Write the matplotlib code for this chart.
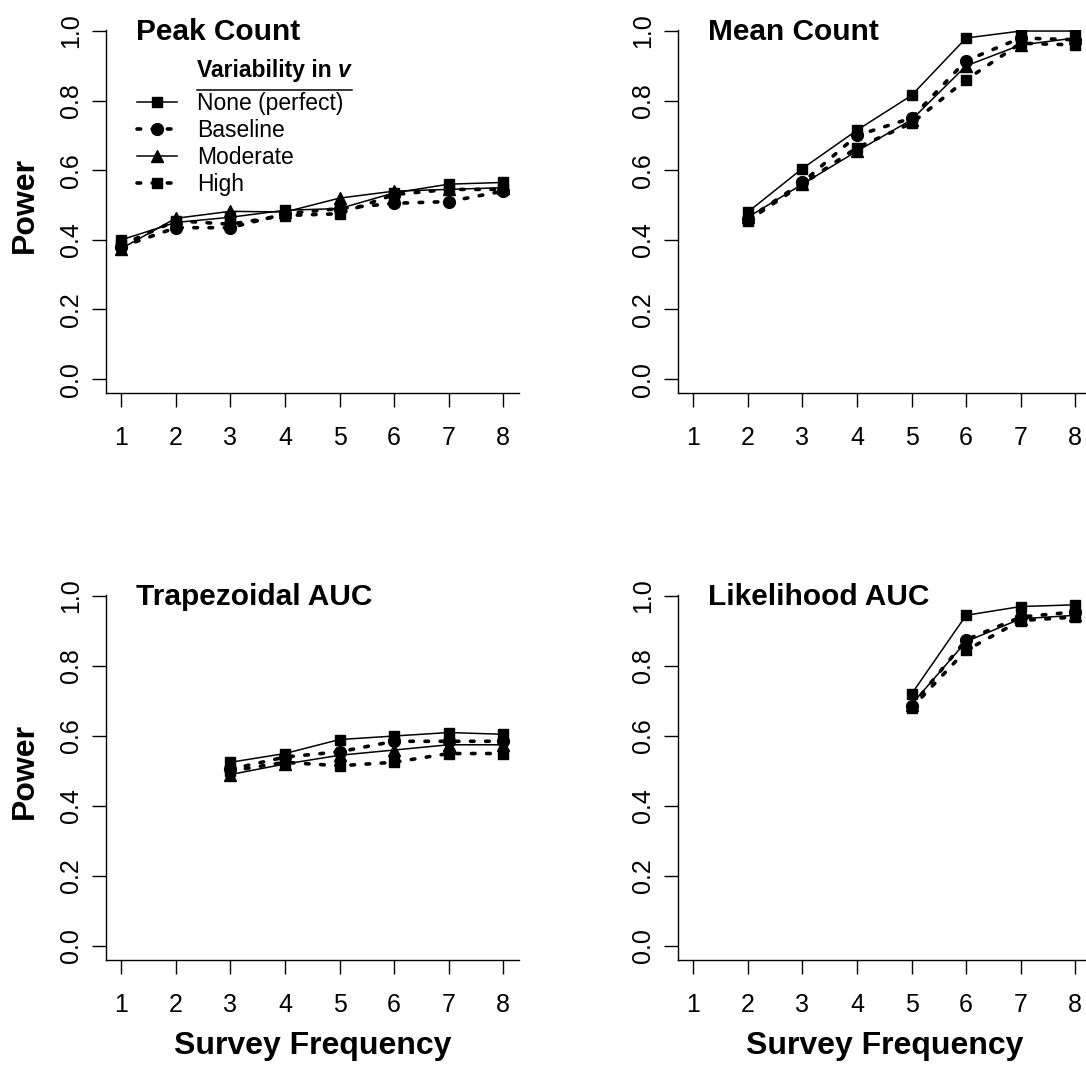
import matplotlib
matplotlib.use("Agg")
import matplotlib.pyplot as plt
from matplotlib.lines import Line2D

plt.rcParams['font.family'] = 'Liberation Sans'

# survey frequency ticks and y ticks
freq = [1, 2, 3, 4, 5, 6, 7, 8]
power_ticks = [0.0, 0.2, 0.4, 0.6, 0.8, 1.0]
power_labels = ['0.0', '0.2', '0.4', '0.6', '0.8', '1.0']

series_names = ['None (perfect)', 'Baseline', 'Moderate', 'High']

# Peak Count
peak_x = [1, 2, 3, 4, 5, 6, 7, 8]
peak_none = [0.40, 0.450, 0.465, 0.485, 0.490, 0.535, 0.560, 0.565]
peak_base = [0.380, 0.435, 0.435, 0.475, 0.490, 0.505, 0.510, 0.540]
peak_mod = [0.375, 0.462, 0.482, 0.480, 0.520, 0.540, 0.545, 0.550]
peak_high = [0.385, 0.455, 0.445, 0.470, 0.475, 0.530, 0.545, 0.545]

# Mean Count
mean_x = [2, 3, 4, 5, 6, 7, 8]
mean_none = [0.480, 0.605, 0.715, 0.815, 0.980, 1.000, 1.000]
mean_base = [0.460, 0.565, 0.700, 0.750, 0.915, 0.980, 0.975]
mean_mod = [0.465, 0.560, 0.655, 0.745, 0.900, 0.960, 0.980]
mean_high = [0.455, 0.560, 0.665, 0.735, 0.860, 0.965, 0.960]

# Trapezoidal AUC
trap_x = [3, 4, 5, 6, 7, 8]
trap_none = [0.525, 0.550, 0.590, 0.600, 0.610, 0.605]
trap_base = [0.505, 0.540, 0.555, 0.585, 0.585, 0.585]
trap_mod = [0.490, 0.520, 0.545, 0.560, 0.575, 0.575]
trap_high = [0.500, 0.525, 0.515, 0.525, 0.550, 0.550]

# Likelihood AUC
lik_x = [5, 6, 7, 8]
lik_none = [0.720, 0.945, 0.970, 0.975]
lik_base = [0.685, 0.875, 0.940, 0.955]
lik_mod = [0.690, 0.870, 0.935, 0.945]
lik_high = [0.680, 0.845, 0.930, 0.940]

dots = (0, (1.0, 3.2))
styles = [
    dict(linestyle='-', lw=1.1, marker='s', ms=7),
    dict(linestyle=dots, lw=2.6, dash_capstyle='round', marker='o', ms=8.5),
    dict(linestyle='-', lw=1.1, marker='^', ms=9),
    dict(linestyle=dots, lw=2.6, dash_capstyle='round', marker='s', ms=7.5),
]


def draw_panel(ax, x, ys, title, xlabel=False, ylabel=False):
    for y, st in zip(ys, styles):
        ax.plot(x, y, color='black', mec='black', mfc='black', **st)
    ax.set_xlim(0.72, 8.28)
    ax.set_ylim(-0.04, 1.003)
    ax.set_xticks(freq)
    ax.set_yticks(power_ticks)
    ax.set_yticklabels(power_labels)
    for s in ['top', 'right']:
        ax.spines[s].set_visible(False)
    for s in ['left', 'bottom']:
        ax.spines[s].set_linewidth(1.0)
    ax.tick_params(axis='both', direction='out', length=10, width=1.0, labelsize=18)
    ax.tick_params(axis='x', pad=13.5)
    ax.tick_params(axis='y', pad=6.5)
    for lab in ax.get_yticklabels():
        lab.set_rotation(90)
        lab.set_va('center')
    ax.text(0.072, 0.9725, title, transform=ax.transAxes, fontsize=21.5,
            fontweight='bold', va='baseline')
    if xlabel:
        ax.set_xlabel('Survey Frequency', fontsize=23, fontweight='bold')
        ax.xaxis.set_label_coords(0.5, -0.1945)
    if ylabel:
        ax.set_ylabel('Power', fontsize=23, fontweight='bold', va='center')
        ax.yaxis.set_label_coords(-0.196, 0.518)


fig = plt.figure(figsize=(10.86, 10.66), dpi=100)
W, H = 1086, 1066
ax_w = 412.5 / W
top_h = 363 / H
bot_h = 365 / H

ax1 = fig.add_axes([106 / W, 1 - 393 / H, ax_w, top_h])
ax2 = fig.add_axes([678 / W, 1 - 393 / H, ax_w, top_h])
ax3 = fig.add_axes([106 / W, 1 - 960 / H, ax_w, bot_h])
ax4 = fig.add_axes([678 / W, 1 - 960 / H, ax_w, bot_h])

draw_panel(ax1, peak_x, [peak_none, peak_base, peak_mod, peak_high], 'Peak Count', ylabel=True)
draw_panel(ax2, mean_x, [mean_none, mean_base, mean_mod, mean_high], 'Mean Count')
draw_panel(ax3, trap_x, [trap_none, trap_base, trap_mod, trap_high], 'Trapezoidal AUC',
           xlabel=True, ylabel=True)
draw_panel(ax4, lik_x, [lik_none, lik_base, lik_mod, lik_high], 'Likelihood AUC', xlabel=True)

# legend in the first panel
handles = [Line2D([], [], color='black', mfc='black', mec='black', **st) for st in styles]
ax1.legend(handles, series_names, loc='upper left', bbox_to_anchor=(0.0752, 0.829),
           frameon=False, fontsize=16.5, handlelength=1.75, handletextpad=0.87,
           labelspacing=0.17, borderpad=0, borderaxespad=0)
t1 = ax1.text(0.2206, 0.8705, 'Variability in ', transform=ax1.transAxes,
              fontsize=16.5, fontweight='bold', va='baseline')
ax1.annotate('v', xy=(1, 0), xycoords=t1, fontsize=16.5, fontweight='bold',
             style='italic', va='bottom')
ax1.plot([0.2206, 0.596], [0.8347, 0.8347], transform=ax1.transAxes,
         color='black', lw=1.1, clip_on=False)

fig.savefig('out.png', dpi=100)
